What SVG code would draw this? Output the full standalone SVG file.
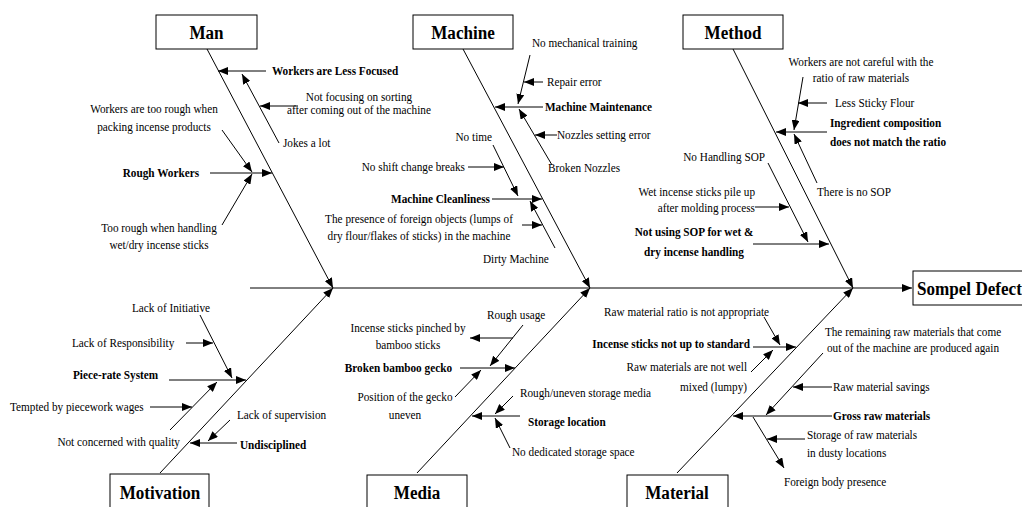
<svg xmlns="http://www.w3.org/2000/svg" width="1022" height="507" viewBox="0 0 1022 507">
<style>
text{font-family:"Liberation Serif","Times New Roman",serif;font-size:12.5px;fill:#000}
.b{font-weight:bold}
.t{font-weight:bold;font-size:19px}
.m{text-anchor:middle}
.e{text-anchor:end}
.box{fill:#fff;stroke:#000;stroke-width:1}
#connectors line{stroke:#000;stroke-width:1;marker-end:url(#ah)}
</style>
<defs>
<marker id="ah" viewBox="0 0 10 8" refX="10" refY="4" markerWidth="10" markerHeight="8" orient="auto" markerUnits="userSpaceOnUse"><path d="M0,0 L10,4 L0,8 z" fill="#000"/></marker>
</defs>
<rect width="1022" height="507" fill="#fff"/>
<g id="connectors">
<line x1="250" y1="288" x2="912" y2="288"/>
<!-- Man -->
<line x1="207" y1="49" x2="333" y2="288"/>
<line x1="266" y1="71" x2="218" y2="71"/>
<line x1="279" y1="143" x2="242" y2="74"/>
<line x1="298" y1="106" x2="260" y2="106"/>
<line x1="210" y1="173" x2="272" y2="173"/>
<line x1="222" y1="130" x2="252" y2="172"/>
<line x1="222" y1="225" x2="252" y2="174"/>
<!-- Machine -->
<line x1="463" y1="49" x2="590" y2="288"/>
<line x1="530" y1="55" x2="518" y2="104"/>
<line x1="543" y1="82" x2="524" y2="82"/>
<line x1="543" y1="107" x2="495" y2="107"/>
<line x1="552" y1="165" x2="519" y2="109"/>
<line x1="557" y1="135" x2="535" y2="135"/>
<line x1="493" y1="145" x2="518" y2="196"/>
<line x1="468" y1="167" x2="504" y2="167"/>
<line x1="492" y1="199" x2="542" y2="199"/>
<line x1="555" y1="248" x2="530" y2="201"/>
<line x1="522" y1="225" x2="542" y2="225"/>
<!-- Method -->
<line x1="733" y1="49" x2="853" y2="288"/>
<line x1="803" y1="77" x2="794" y2="130"/>
<line x1="827" y1="103" x2="798" y2="103"/>
<line x1="827" y1="132" x2="776" y2="132"/>
<line x1="817" y1="183" x2="794" y2="134"/>
<line x1="768" y1="163" x2="808" y2="242"/>
<line x1="755" y1="207" x2="789" y2="207"/>
<line x1="753" y1="244" x2="829" y2="244"/>
<!-- Motivation -->
<line x1="160" y1="473" x2="333" y2="288"/>
<line x1="200" y1="315" x2="232" y2="378"/>
<line x1="186" y1="343" x2="213" y2="343"/>
<line x1="169" y1="380" x2="246" y2="380"/>
<line x1="150" y1="407" x2="192" y2="407"/>
<line x1="170" y1="430" x2="217" y2="382"/>
<line x1="237" y1="443" x2="190" y2="443"/>
<line x1="230" y1="420" x2="208" y2="441"/>
<!-- Media -->
<line x1="417" y1="473" x2="590" y2="288"/>
<line x1="523" y1="325" x2="490" y2="366"/>
<line x1="513" y1="338" x2="470" y2="338"/>
<line x1="460" y1="368" x2="515" y2="368"/>
<line x1="455" y1="397" x2="481" y2="370"/>
<line x1="520" y1="416" x2="472" y2="416"/>
<line x1="513" y1="396" x2="495" y2="414"/>
<line x1="510" y1="448" x2="495" y2="418"/>
<!-- Material -->
<line x1="677" y1="473" x2="853" y2="288"/>
<line x1="764" y1="317" x2="780" y2="345"/>
<line x1="753" y1="347" x2="796" y2="347"/>
<line x1="751" y1="372" x2="773" y2="350"/>
<line x1="823" y1="353" x2="766" y2="415"/>
<line x1="832" y1="387" x2="793" y2="387"/>
<line x1="832" y1="416" x2="733" y2="416"/>
<line x1="753" y1="417" x2="784" y2="468"/>
<line x1="805" y1="439" x2="767" y2="439"/>
</g>
<g id="effect">
<rect class="box" x="913" y="271" width="120" height="34"/>
<text class="t" transform="translate(917 295) scale(.9 1)">Sompel Defect</text>
</g>
<g id="man">
<rect class="box" x="156" y="15" width="101" height="34"/>
<text class="t m" transform="translate(206.5 39) scale(.9 1)">Man</text>
</g>
<g id="machine">
<rect class="box" x="413" y="15" width="100" height="34"/>
<text class="t m" transform="translate(463 39) scale(.9 1)">Machine</text>
</g>
<g id="method">
<rect class="box" x="683" y="15" width="100" height="34"/>
<text class="t m" transform="translate(733 39) scale(.9 1)">Method</text>
</g>
<g id="motivation">
<rect class="box" x="110" y="474" width="99" height="40"/>
<text class="t m" transform="translate(160 499) scale(.9 1)">Motivation</text>
</g>
<g id="media">
<rect class="box" x="367" y="475" width="100" height="40"/>
<text class="t m" transform="translate(417 499) scale(.9 1)">Media</text>
</g>
<g id="material">
<rect class="box" x="627" y="475" width="101" height="40"/>
<text class="t m" transform="translate(677 499) scale(.9 1)">Material</text>
</g>
<g id="man-causes">
<text class="b" transform="translate(272 75) scale(.9 1)">Workers are Less Focused</text>
<text class="m" transform="translate(359 101) scale(.9 1)"><tspan x="0">Not focusing on sorting</tspan><tspan x="0" dy="13.5">after coming out of the machine</tspan></text>
<text transform="translate(283 147) scale(.9 1)">Jokes a lot</text>
<text class="b e" transform="translate(199 177) scale(.9 1)">Rough Workers</text>
<text class="m" transform="translate(154 113) scale(.9 1)"><tspan x="0">Workers are too rough when</tspan><tspan x="0" dy="18">packing incense products</tspan></text>
<text class="m" transform="translate(159 232) scale(.9 1)"><tspan x="0">Too rough when handling</tspan><tspan x="0" dy="17">wet/dry incense sticks</tspan></text>
</g>
<g id="machine-causes">
<text transform="translate(532 47) scale(.9 1)">No mechanical training</text>
<text transform="translate(547 86) scale(.9 1)">Repair error</text>
<text class="b" transform="translate(545 111) scale(.9 1)">Machine Maintenance</text>
<text transform="translate(557 139) scale(.9 1)">Nozzles setting error</text>
<text transform="translate(548 172) scale(.9 1)">Broken Nozzles</text>
<text class="e" transform="translate(492 141) scale(.9 1)">No time</text>
<text class="e" transform="translate(465 171) scale(.9 1)">No shift change breaks</text>
<text class="b e" transform="translate(490 203) scale(.9 1)">Machine Cleanliness</text>
<text class="m" transform="translate(419 223) scale(.9 1)"><tspan x="0">The presence of foreign objects (lumps of</tspan><tspan x="0" dy="17">dry flour/flakes of sticks) in the machine</tspan></text>
<text transform="translate(483 263) scale(.9 1)">Dirty Machine</text>
</g>
<g id="method-causes">
<text class="m" transform="translate(861 66) scale(.9 1)"><tspan x="0">Workers are not careful with the</tspan><tspan x="0" dy="16">ratio of raw materials</tspan></text>
<text transform="translate(835 107) scale(.9 1)">Less Sticky Flour</text>
<text class="b" transform="translate(830 127) scale(.9 1)"><tspan x="0">Ingredient composition</tspan><tspan x="0" dy="19">does not match the ratio</tspan></text>
<text transform="translate(817 196) scale(.9 1)">There is no SOP</text>
<text class="e" transform="translate(765 161) scale(.9 1)">No Handling SOP</text>
<text class="e" transform="translate(755 196) scale(.9 1)"><tspan x="0">Wet incense sticks pile up</tspan><tspan x="0" dy="16">after molding process</tspan></text>
<text class="b m" transform="translate(694 236) scale(.9 1)"><tspan x="0">Not using SOP for wet &amp;</tspan><tspan x="0" dy="20">dry incense handling</tspan></text>
</g>
<g id="motivation-causes">
<text transform="translate(132 312) scale(.9 1)">Lack of Initiative</text>
<text transform="translate(72 347) scale(.9 1)">Lack of Responsibility</text>
<text class="b" transform="translate(73 379) scale(.9 1)">Piece-rate System</text>
<text transform="translate(10 411) scale(.9 1)">Tempted by piecework wages</text>
<text class="e" transform="translate(180 446) scale(.9 1)">Not concerned with quality</text>
<text transform="translate(237 419) scale(.9 1)">Lack of supervision</text>
<text class="b" transform="translate(240 449) scale(.9 1)">Undisciplined</text>
</g>
<g id="media-causes">
<text transform="translate(487 319) scale(.9 1)">Rough usage</text>
<text class="m" transform="translate(408 332) scale(.9 1)"><tspan x="0">Incense sticks pinched by</tspan><tspan x="0" dy="17">bamboo sticks</tspan></text>
<text class="b e" transform="translate(452 372) scale(.9 1)">Broken bamboo gecko</text>
<text class="m" transform="translate(405 401) scale(.9 1)"><tspan x="0">Position of the gecko</tspan><tspan x="0" dy="18">uneven</tspan></text>
<text transform="translate(520 397) scale(.9 1)">Rough/uneven storage media</text>
<text class="b" transform="translate(528 426) scale(.9 1)">Storage location</text>
<text transform="translate(512 456) scale(.9 1)">No dedicated storage space</text>
</g>
<g id="material-causes">
<text transform="translate(604 316) scale(.9 1)">Raw material ratio is not appropriate</text>
<text class="b e" transform="translate(750 348) scale(.9 1)">Incense sticks not up to standard</text>
<text class="e" transform="translate(747 371) scale(.9 1)"><tspan x="0">Raw materials are not well</tspan><tspan x="0" dy="20">mixed (lumpy)</tspan></text>
<text class="m" transform="translate(913 336) scale(.9 1)"><tspan x="0">The remaining raw materials that come</tspan><tspan x="0" dy="16">out of the machine are produced again</tspan></text>
<text transform="translate(833 391) scale(.9 1)">Raw material savings</text>
<text class="b" transform="translate(833 420) scale(.9 1)">Gross raw materials</text>
<text transform="translate(807 439) scale(.9 1)"><tspan x="0">Storage of raw materials</tspan><tspan x="0" dy="18">in dusty locations</tspan></text>
<text transform="translate(784 486) scale(.9 1)">Foreign body presence</text>
</g>
</svg>
